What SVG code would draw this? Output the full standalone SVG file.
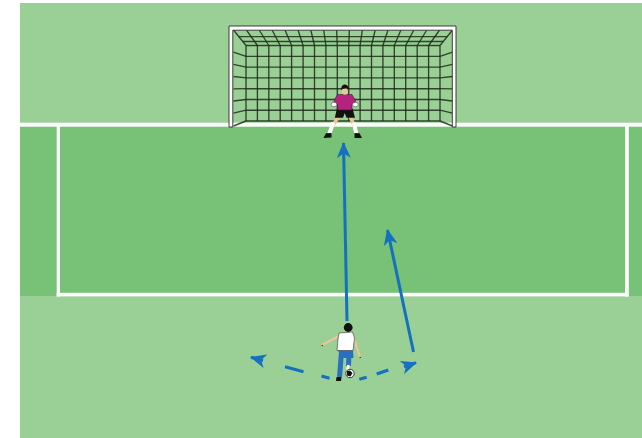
<svg xmlns="http://www.w3.org/2000/svg" width="642" height="438" viewBox="0 0 642 438">
  <defs>
    <style>
      .pitch { fill: #9acf95; }
      .band { fill: #77c276; }
      .chalk { fill: #ffffff; }
      .net { stroke: #1d2a19; stroke-width: 1.35; stroke-opacity: 0.85; fill: none; }
      .frame { fill: #ffffff; stroke: #2b2b2b; stroke-width: 0.9; }
      .run { stroke: #1570c0; stroke-width: 3; fill: none; }
      .skin { fill: #eec39a; }
      .ink { fill: #111111; }
    </style>
    <marker id="head" viewBox="0 0 16 14" markerWidth="16" markerHeight="14" refX="15" refY="7" orient="auto" markerUnits="userSpaceOnUse">
      <path d="M0,0 L16,7 L0,14 L4.5,7 Z" fill="#1570c0"/>
    </marker>
  </defs>

  <!-- pitch surface -->
  <rect class="pitch" x="20" y="3" width="622" height="435"/>
  <rect class="band" x="20" y="126" width="622" height="170"/>

  <!-- pitch markings: goal line and penalty area -->
  <g id="markings">
    <rect class="chalk" x="20" y="122.7" width="622" height="4"/>
    <rect class="chalk" x="56.7" y="124" width="3.3" height="172.5"/>
    <rect class="chalk" x="625" y="124" width="3.8" height="172.5"/>
    <rect class="chalk" x="56.7" y="292.8" width="572" height="3.6"/>
  </g>

  <!-- goal with net -->
  <g id="goal">
    <g class="net">
      <!-- back panel verticals -->
      <path d="M246,45.5V121 M257.4,45.5V121 M268.8,45.5V121 M280.2,45.5V121 M291.6,45.5V121 M303.1,45.5V121 M314.5,45.5V121 M325.9,45.5V121 M337.3,45.5V121 M348.7,45.5V121 M360.1,45.5V121 M371.5,45.5V121 M382.9,45.5V121 M394.3,45.5V121 M405.7,45.5V121 M417.2,45.5V121 M428.6,45.5V121 M440,45.5V121"/>
      <!-- back panel horizontals -->
      <path d="M246,45.5H440 M246,56.3H440 M246,67.1H440 M246,77.9H440 M246,88.7H440 M246,99.5H440 M246,110.2H440 M246,121H440"/>
      <!-- roof panel -->
      <path d="M233.5,30L246,45.5 M246.4,30L257.4,45.5 M259.2,30L268.8,45.5 M272.1,30L280.2,45.5 M285,30L291.6,45.5 M298,30L303.1,45.5 M310.8,30L314.5,45.5 M323.7,30L325.9,45.5 M336.6,30L337.3,45.5 M349.4,30L348.7,45.5 M362.3,30L360.1,45.5 M375.2,30L371.5,45.5 M388,30L382.9,45.5 M400.9,30L394.3,45.5 M413.8,30L405.7,45.5 M426.8,30L417.2,45.5 M439.6,30L428.6,45.5 M452.5,30L440,45.5"/>
      <path d="M238.8,36.6H447.2 M242.8,41.5H443.2"/>
      <!-- side panels -->
      <path d="M233.5,52.1L246,56.3 M233.5,64.3L246,67.1 M233.5,76.5L246,77.9 M233.5,88.8L246,88.7 M233.5,101L246,99.5 M233.5,113.1L246,110.2 M233.5,126L246,121"/>
      <path d="M452.5,52.1L440,56.3 M452.5,64.3L440,67.1 M452.5,76.5L440,77.9 M452.5,88.8L440,88.7 M452.5,101L440,99.5 M452.5,113.1L440,110.2 M452.5,126L440,121"/>
    </g>
    <path class="frame" d="M229,127V26H456V127H452.3V30.2H232.8V127Z"/>
  </g>

  <!-- goalkeeper -->
  <g id="goalkeeper">
    <!-- legs -->
    <path d="M339,116 L333,125 L329,134" stroke="#eec39a" stroke-width="3.6" fill="none" stroke-linecap="round"/>
    <path d="M350,116 L354,125 L356.5,134" stroke="#eec39a" stroke-width="3.6" fill="none" stroke-linecap="round"/>
    <path d="M333.4,122.5 L329.3,133.5" stroke="#ffffff" stroke-width="3.8" fill="none"/>
    <path d="M353.8,122.5 L356.3,133.5" stroke="#ffffff" stroke-width="3.8" fill="none"/>
    <path class="ink" d="M326,133.3 L331.5,133 L331.5,137.5 L323.5,138 Z"/>
    <path class="ink" d="M354.5,133 L359.5,133.3 L362,138 L354.5,138 Z"/>
    <!-- shorts -->
    <path class="ink" d="M337,108.5 H352.5 L355,117.8 H346.5 L344.8,113 L343,117.8 H334.8 Z"/>
    <!-- shirt and arms -->
    <path d="M337.5,94.5 L352,94.5 L355.5,100.5 L355,104.5 L352,104 L352,110 L337.5,110 L337.5,104 L334.5,104.5 L334,100.5 Z" fill="#b3237f" stroke="#3a0f2a" stroke-width="0.5"/>
    <ellipse cx="334" cy="104.5" rx="2.8" ry="2.3" fill="#ffffff" stroke="#333" stroke-width="0.5"/>
    <ellipse cx="355.4" cy="104.5" rx="2.8" ry="2.3" fill="#ffffff" stroke="#333" stroke-width="0.5"/>
    <!-- head -->
    <ellipse class="skin" cx="344.8" cy="91.3" rx="3" ry="3.4"/>
    <path class="ink" d="M341,90 Q341.3,84.6 345,84.6 Q348.8,84.9 348.6,89.5 L346.5,88.2 L342.5,88.9 Z"/>
  </g>

  <!-- penalty taker -->
  <g id="taker">
    <!-- arms -->
    <path d="M339,336 L322,345" stroke="#eec39a" stroke-width="2.2" fill="none" stroke-linecap="round"/>
    <path d="M353,336 L360,357" stroke="#eec39a" stroke-width="2.2" fill="none" stroke-linecap="round"/>
    <path d="M322,345 L322.5,346" stroke="#333" stroke-width="1.5" fill="none"/>
    <path d="M360,357 L360.5,358" stroke="#333" stroke-width="1.5" fill="none"/>
    <!-- legs -->
    <path d="M341.5,352 L339.5,377" stroke="#2b6fc0" stroke-width="5" fill="none"/>
    <path d="M349,352 L348.5,366" stroke="#2b6fc0" stroke-width="5" fill="none"/>
    <path d="M348.5,365 L347.5,370" stroke="#ffffff" stroke-width="2.6" fill="none"/>
    <path class="ink" d="M336.5,377 L341.5,377 L341,381 L336,381 Z"/>
    <!-- shorts -->
    <path d="M337,349.5 H353 L353.5,358 L343.5,358 Z" fill="#2b6fc0"/>
    <!-- shirt -->
    <path d="M339,333 L352.5,332 L354.5,338 L353,350.5 L337,350.5 L338,339 Z" fill="#ffffff" stroke="#333" stroke-width="0.6"/>
    <!-- head -->
    <circle class="ink" cx="348.2" cy="327.5" r="4.4"/>
    <!-- ball -->
    <circle cx="350" cy="373.5" r="4.2" fill="#ffffff" stroke="#111" stroke-width="0.8"/>
    <path class="ink" d="M347,371 L350,370.5 L352.5,373 L350.5,376.5 L347,375.5 Z"/>
  </g>

  <!-- run and shot lines -->
  <g id="connectors">
    <line class="run" x1="347" y1="321" x2="343.5" y2="143" marker-end="url(#head)"/>
    <line class="run" x1="413.5" y1="352" x2="387.5" y2="230" marker-end="url(#head)"/>
    <line class="run" x1="321.5" y1="376" x2="329.5" y2="378.3"/>
    <line class="run" x1="285" y1="366.7" x2="303.5" y2="371.7"/>
    <line class="run" x1="263" y1="360.6" x2="251" y2="357.3" marker-end="url(#head)"/>
    <line class="run" x1="359.3" y1="379.3" x2="366.7" y2="377.3"/>
    <line class="run" x1="376.7" y1="374" x2="388.3" y2="370"/>
    <line class="run" x1="404" y1="366.8" x2="416" y2="362.7" marker-end="url(#head)"/>
  </g>
</svg>
